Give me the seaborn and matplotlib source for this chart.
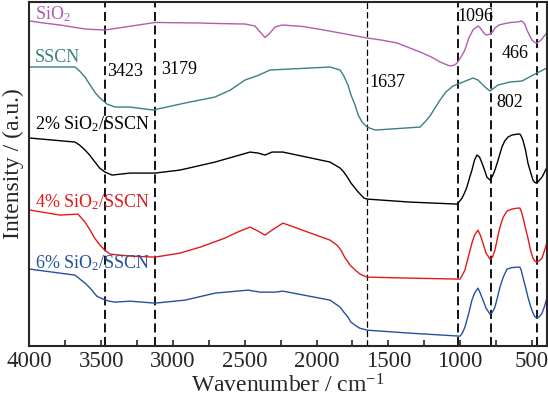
import matplotlib
matplotlib.use("Agg")
import matplotlib.pyplot as plt
import pandas as pd
import seaborn as sns
from matplotlib.ticker import MultipleLocator

# FTIR spectra: (wavenumber cm-1, intensity a.u. incl. offset)
sio2_pts = [(3995, 379), (3900, 377), (3786, 375), (3612, 371), (3550, 370.5), (3473, 370),
            (3333, 373), (3125, 377.5), (2810, 377), (2700, 376.5), (2498, 376), (2429, 374),
            (2393, 368), (2359, 362.5), (2324, 367), (2289, 373), (2240, 375), (2094, 373.5),
            (1950, 370), (1836, 367), (1648, 362), (1550, 360), (1439, 357), (1279, 348),
            (1200, 343), (1140, 338), (1071, 334), (1040, 335), (1022, 337), (990, 344),
            (967, 350), (940, 362), (911, 370), (876, 374), (860, 372), (841, 368), (820, 365),
            (792, 366), (775, 368), (758, 372), (730, 375), (702, 376), (650, 377.5), (604, 378),
            (570, 379), (550, 376), (535, 370), (515, 364), (500, 360), (480, 357.5), (465, 357),
            (445, 359), (430, 361), (415, 364), (396, 367)]

sscn_pts = [(3995, 333), (3682, 333), (3650, 329), (3612, 323), (3577, 315), (3540, 307),
            (3508, 302), (3460, 296), (3403, 293), (3299, 293), (3139, 290), (2916, 297),
            (2707, 303), (2600, 310), (2498, 320), (2400, 325), (2324, 330), (1906, 333),
            (1836, 330), (1810, 324), (1781, 315), (1760, 305), (1732, 295), (1710, 285),
            (1683, 278), (1648, 273), (1592, 270), (1279, 273), (1240, 279), (1210, 284),
            (1180, 291), (1140, 300), (1100, 308), (1050, 314), (980, 318), (911, 322),
            (876, 320), (827, 313), (792, 309), (737, 315), (653, 318), (570, 319),
            (465, 327), (396, 332)]

s2_pts = [(3995, 262), (3682, 258), (3650, 255), (3612, 250), (3580, 245), (3543, 238),
          (3510, 232), (3473, 228), (3424, 225), (3299, 227), (3125, 227), (2951, 230),
          (2707, 238), (2463, 248), (2407, 247), (2359, 245), (2310, 248), (2234, 248),
          (1906, 238), (1836, 232), (1810, 228), (1781, 222), (1760, 217), (1732, 212),
          (1710, 208), (1683, 204), (1670, 202), (1648, 201), (1349, 198), (1022, 196),
          (1000, 199.5), (987, 202), (970, 207), (953, 213), (935, 222), (918, 230), (900, 240),
          (883, 245), (865, 243), (848, 237), (830, 230), (814, 223), (792, 220), (775, 224),
          (758, 230), (740, 238), (709, 253), (690, 259), (667, 263), (640, 265), (600, 266),
          (584, 266), (575, 264), (563, 260), (545, 250), (528, 237), (510, 228), (493, 220),
          (480, 217.5), (465, 217), (448, 220), (430, 223), (412, 228), (396, 233)]

s4_pts = [(3995, 190), (3786, 185), (3661, 186), (3612, 178), (3577, 170), (3545, 162),
          (3508, 155), (3475, 150), (3438, 146), (3299, 144), (3125, 143), (2951, 147),
          (2810, 153), (2638, 162), (2550, 168), (2463, 173), (2407, 169), (2359, 165),
          (2310, 170), (2234, 177), (1906, 160), (1858, 155), (1830, 150), (1801, 142),
          (1785, 139), (1767, 135), (1730, 130), (1697, 126), (1648, 123), (1349, 122),
          (1001, 121), (985, 125), (967, 130), (940, 145), (918, 157), (900, 165), (876, 170),
          (860, 165), (841, 157), (820, 147), (792, 141), (775, 143), (758, 150), (740, 162),
          (723, 173), (700, 183), (674, 189), (640, 191), (600, 192), (584, 192), (575, 189),
          (563, 183), (545, 172), (528, 162), (510, 150), (493, 142), (480, 139), (465, 138),
          (448, 139.5), (430, 142), (412, 150), (396, 157)]

s6_pts = [(3995, 131), (3682, 125), (3612, 117), (3577, 112), (3530, 104), (3487, 101),
          (3445, 99), (3403, 98), (3299, 99), (3125, 97), (2916, 100), (2707, 107), (2477, 110),
          (2393, 108), (2289, 108), (2234, 109), (1906, 100), (1836, 93), (1810, 88), (1781, 83),
          (1760, 78), (1732, 75), (1700, 72), (1648, 70), (1349, 67), (1001, 64), (985, 67),
          (967, 73), (940, 87), (918, 100), (900, 107), (876, 112), (860, 107), (841, 100),
          (820, 92), (792, 86), (775, 88), (758, 93), (740, 103), (723, 113), (700, 123),
          (674, 131), (640, 132.5), (600, 133), (584, 133), (575, 130), (563, 123), (545, 113),
          (528, 103), (510, 94), (493, 87), (480, 83.5), (465, 82), (448, 83.5), (430, 87),
          (412, 94), (396, 102)]

series_names = ["SiO2", "SSCN", "2%", "4%", "6%"]
series_colors = ["#B05DAE", "#3C7E82", "#000000", "#E31A1C", "#2550A0"]
peak_lines = [3470, 3125, 1647, 1015, 788, 463]
peak_labels = ["3423", "3179", "1637", "1096", "802", "466"]

frames = []
for name, pts in zip(series_names, [sio2_pts, sscn_pts, s2_pts, s4_pts, s6_pts]):
    d = pd.DataFrame(pts, columns=["wn", "val"])
    d["sample"] = name
    frames.append(d)
df = pd.concat(frames, ignore_index=True)

sns.set_theme(style="ticks")
plt.rcParams["font.family"] = ["Liberation Serif", "DejaVu Serif"]
plt.rcParams["mathtext.fontset"] = "custom"
plt.rcParams["mathtext.rm"] = "Liberation Serif"
plt.rcParams["mathtext.it"] = "Liberation Serif:italic"

fig, ax = plt.subplots(figsize=(5.48, 3.98), dpi=100)
fig.subplots_adjust(left=0.0535, right=0.998, bottom=0.131, top=0.995)

sns.lineplot(data=df, x="wn", y="val", hue="sample", palette=dict(zip(series_names, series_colors)),
             sort=False, estimator=None, linewidth=1.0, legend=False, ax=ax)
for ln in ax.lines:
    ln.set_solid_joinstyle("round")

for i, x in enumerate(peak_lines):
    ax.axvline(x, color="black", linestyle=(0, (5, 2.5)),
               linewidth=0.9 if peak_labels[i] == "1637" else 1.3, zorder=1)

ax.set_xlim(4000, 396)
ax.set_ylim(54.3, 398)
ax.xaxis.set_major_locator(MultipleLocator(500))
ax.xaxis.set_minor_locator(MultipleLocator(250))
ax.tick_params(axis="x", which="both", direction="in", length=4, width=1.2,
               labelsize=16.5, pad=4, top=False)
ax.set_yticks([])
for sp in ax.spines.values():
    sp.set_linewidth(1.5)
    sp.set_visible(True)

ax.set_xlabel("Wavenumber / cm$^{-1}$", fontsize=17, labelpad=1)
ax.set_ylabel("Intensity / (a.u.)", fontsize=17)
ax.yaxis.set_label_coords(-0.011, 0.53)

lab = dict(transform=ax.transAxes, va="center", ha="left", fontsize=13)
ax.text(0.011, 0.965, "SiO$_\\mathregular{2}$", color=series_colors[0], **lab)
ax.text(0.011, 0.840, "SSCN", color=series_colors[1], **lab)
ax.text(0.011, 0.645, "2% SiO$_\\mathregular{2}$/SSCN", color=series_colors[2], **lab)
ax.text(0.011, 0.418, "4% SiO$_\\mathregular{2}$/SSCN", color=series_colors[3], **lab)
ax.text(0.011, 0.241, "6% SiO$_\\mathregular{2}$/SSCN", color=series_colors[4], **lab)

label_pos = [(0.150, 0.799), (0.254, 0.805), (0.658, 0.766), (0.828, 0.959), (0.903, 0.709), (0.913, 0.849)]
for txt, (px, py) in zip(peak_labels, label_pos):
    ax.text(px, py, txt, color="black", **lab)

fig.savefig("out.png", dpi=100)
